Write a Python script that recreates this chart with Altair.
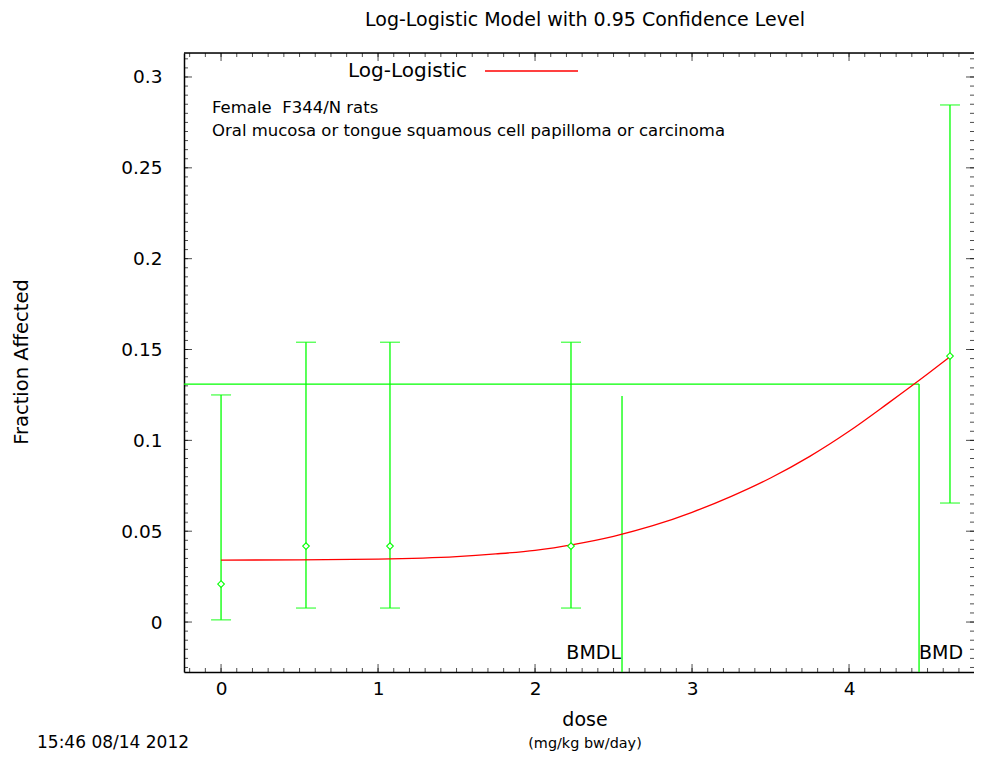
import altair as alt
import numpy as np
import pandas as pd

# ---- data ----
dose = [0.0, 0.541, 1.076, 2.229, 4.643]
frac = [0.0209, 0.0418, 0.0418, 0.0418, 0.1464]
lower = [0.0012, 0.0077, 0.0077, 0.0077, 0.0655]
upper = [0.125, 0.154, 0.154, 0.154, 0.2846]

curve_dose = [0.0, 0.5, 1.0, 1.5, 1.75, 2.0, 2.25, 2.5, 2.75, 3.0, 3.25,
              3.5, 3.75, 4.0, 4.25, 4.5, 4.643]
curve_frac = [0.0341, 0.0342, 0.0346, 0.0360, 0.0375, 0.0395, 0.0428, 0.0472,
              0.0530, 0.0604, 0.0692, 0.0793, 0.0912, 0.1050, 0.1205, 0.1365,
              0.1460]

bmd = 4.446
bmdl = 2.554
bmr_level = 0.131
bmdl_top = 0.1244

x_major = [0, 1, 2, 3, 4]
y_major = [0, 0.05, 0.1, 0.15, 0.2, 0.25, 0.3]
x_minor = [round(v, 2) for v in np.arange(-0.2, 4.8, 0.1)]
y_minor = [round(v, 3) for v in np.arange(-0.025, 0.311, 0.005)]

XDOM = [-0.236, 4.796]
YDOM = [-0.0275, 0.3132]
W, H = 790, 619
FONT = "DejaVu Sans"
GREEN = "#00ff00"

xs = alt.Scale(domain=XDOM, nice=False, zero=False)
ys = alt.Scale(domain=YDOM, nice=False, zero=False)

pts = pd.DataFrame({"dose": dose, "frac": frac, "lo": lower, "hi": upper})
cur = pd.DataFrame({"dose": curve_dose, "frac": curve_frac})

base_axes = alt.Chart(pts).mark_point(opacity=0).encode(
    x=alt.X("dose:Q", scale=xs,
            axis=alt.Axis(values=x_major, format="d", ticks=False, grid=False,
                          domainColor="black", domainWidth=1.5,
                          labelFont=FONT, labelFontSize=18.5, labelColor="black",
                          labelPadding=7, title=None)),
    y=alt.Y("frac:Q", scale=ys,
            axis=alt.Axis(values=y_major, format="~g", ticks=False, grid=False,
                          domainColor="black", domainWidth=1.5,
                          labelFont=FONT, labelFontSize=18.5, labelColor="black",
                          labelPadding=22, title=None)),
)

one = pd.DataFrame({"a": [0]})

# frame top line
top_line = alt.Chart(one).mark_rule(color="black", strokeWidth=1.5).encode(
    x=alt.value(0), x2=alt.value(W), y=alt.value(0))

# ticks (inward, mirrored) - clipped so only the inner half shows
xmin_df = pd.DataFrame({"v": x_minor})
xmaj_df = pd.DataFrame({"v": x_major})
ymin_df = pd.DataFrame({"v": y_minor})
ymaj_df = pd.DataFrame({"v": y_major})


def xticks(df, length):
    b = alt.Chart(df).mark_tick(color="black", thickness=1, size=length * 2,
                                orient="vertical", clip=True)
    return (b.encode(x=alt.X("v:Q", scale=xs), y=alt.value(H)) +
            b.encode(x=alt.X("v:Q", scale=xs), y=alt.value(0)))


def yticks(df, length):
    b = alt.Chart(df).mark_tick(color="black", thickness=1, size=length * 2,
                                orient="horizontal", clip=True)
    return (b.encode(y=alt.Y("v:Q", scale=ys), x=alt.value(0)) +
            b.encode(y=alt.Y("v:Q", scale=ys), x=alt.value(W)))


ticks = xticks(xmin_df, 4) + xticks(xmaj_df, 8) + yticks(ymin_df, 4) + yticks(ymaj_df, 8)

# error bars
err = alt.Chart(pts).mark_rule(color=GREEN, strokeWidth=1.3).encode(
    x=alt.X("dose:Q", scale=xs), y=alt.Y("lo:Q", scale=ys), y2="hi:Q")
cap_lo = alt.Chart(pts).mark_tick(color=GREEN, orient="horizontal", size=20, thickness=1.3).encode(
    x=alt.X("dose:Q", scale=xs), y=alt.Y("lo:Q", scale=ys))
cap_hi = alt.Chart(pts).mark_tick(color=GREEN, orient="horizontal", size=20, thickness=1.3).encode(
    x=alt.X("dose:Q", scale=xs), y=alt.Y("hi:Q", scale=ys))
points = alt.Chart(pts).mark_point(shape="diamond", filled=True, fill="white", stroke=GREEN,
                                   size=45, strokeWidth=1.1, opacity=1).encode(
    x=alt.X("dose:Q", scale=xs), y=alt.Y("frac:Q", scale=ys))

# fitted curve
line = alt.Chart(cur).mark_line(color="red", strokeWidth=1.3, interpolate="monotone").encode(
    x=alt.X("dose:Q", scale=xs), y=alt.Y("frac:Q", scale=ys))

# BMD / BMDL lines
bm = pd.DataFrame({"bmd": [bmd], "bmdl": [bmdl], "bmr": [bmr_level],
                   "bmdl_top": [bmdl_top], "xleft": [XDOM[0]], "ybot": [YDOM[0]]})
bmr_rule = alt.Chart(bm).mark_rule(color=GREEN, strokeWidth=1.3).encode(
    x=alt.X("xleft:Q", scale=xs), x2="bmd:Q", y=alt.Y("bmr:Q", scale=ys))
bmd_rule = alt.Chart(bm).mark_rule(color=GREEN, strokeWidth=1.3).encode(
    x=alt.X("bmd:Q", scale=xs), y=alt.Y("ybot:Q", scale=ys), y2="bmr:Q")
bmdl_rule = alt.Chart(bm).mark_rule(color=GREEN, strokeWidth=1.3).encode(
    x=alt.X("bmdl:Q", scale=xs), y=alt.Y("ybot:Q", scale=ys), y2="bmdl_top:Q")
bmdl_txt = alt.Chart(bm).mark_text(text="BMDL", font=FONT, fontSize=19, align="right",
                                   baseline="middle", dx=-1, color="black").encode(
    x=alt.X("bmdl:Q", scale=xs), y=alt.value(600))
bmd_txt = alt.Chart(bm).mark_text(text="BMD", font=FONT, fontSize=19, align="left",
                                  baseline="middle", dx=0, color="black").encode(
    x=alt.X("bmd:Q", scale=xs), y=alt.value(600))


def label(txt, x, y, size, align="left", angle=0):
    return alt.Chart(one).mark_text(text=txt, font=FONT, fontSize=size, align=align,
                                    baseline="middle", angle=angle, color="black").encode(
        x=alt.value(x), y=alt.value(y))


legend_line = alt.Chart(one).mark_rule(color="red", strokeWidth=1.3).encode(
    x=alt.value(301), x2=alt.value(394), y=alt.value(18))

texts = [
    label("Log-Logistic Model with 0.95 Confidence Level", 401, -33, 19, "center"),
    label("Log-Logistic", 164, 18, 20),
    legend_line,
    label("Female\u00a0\u00a0F344/N rats", 28, 55, 16.5),
    label("Oral mucosa or tongue squamous cell papilloma or carcinoma", 28, 78, 16.5),
    label("Fraction Affected", -162, 309, 19.5, "center", 270),
    label("dose", 401, 667, 19, "center"),
    label("(mg/kg bw/day)", 401, 691, 14.4, "center"),
    label("15:46 08/14 2012", -147, 690, 17),
]

chart = alt.layer(
    base_axes, ticks, top_line, bmr_rule, bmd_rule, bmdl_rule, err, cap_lo, cap_hi,
    line, points, bmdl_txt, bmd_txt, *texts
).properties(
    width=W, height=H,
    autosize=alt.AutoSizeParams(type="none"),
    padding={"left": 176, "top": 45, "right": 0, "bottom": 81},
).configure_view(stroke=None).configure(background="white")

chart.save("out.html", embed_options={"renderer": "svg", "actions": False})
